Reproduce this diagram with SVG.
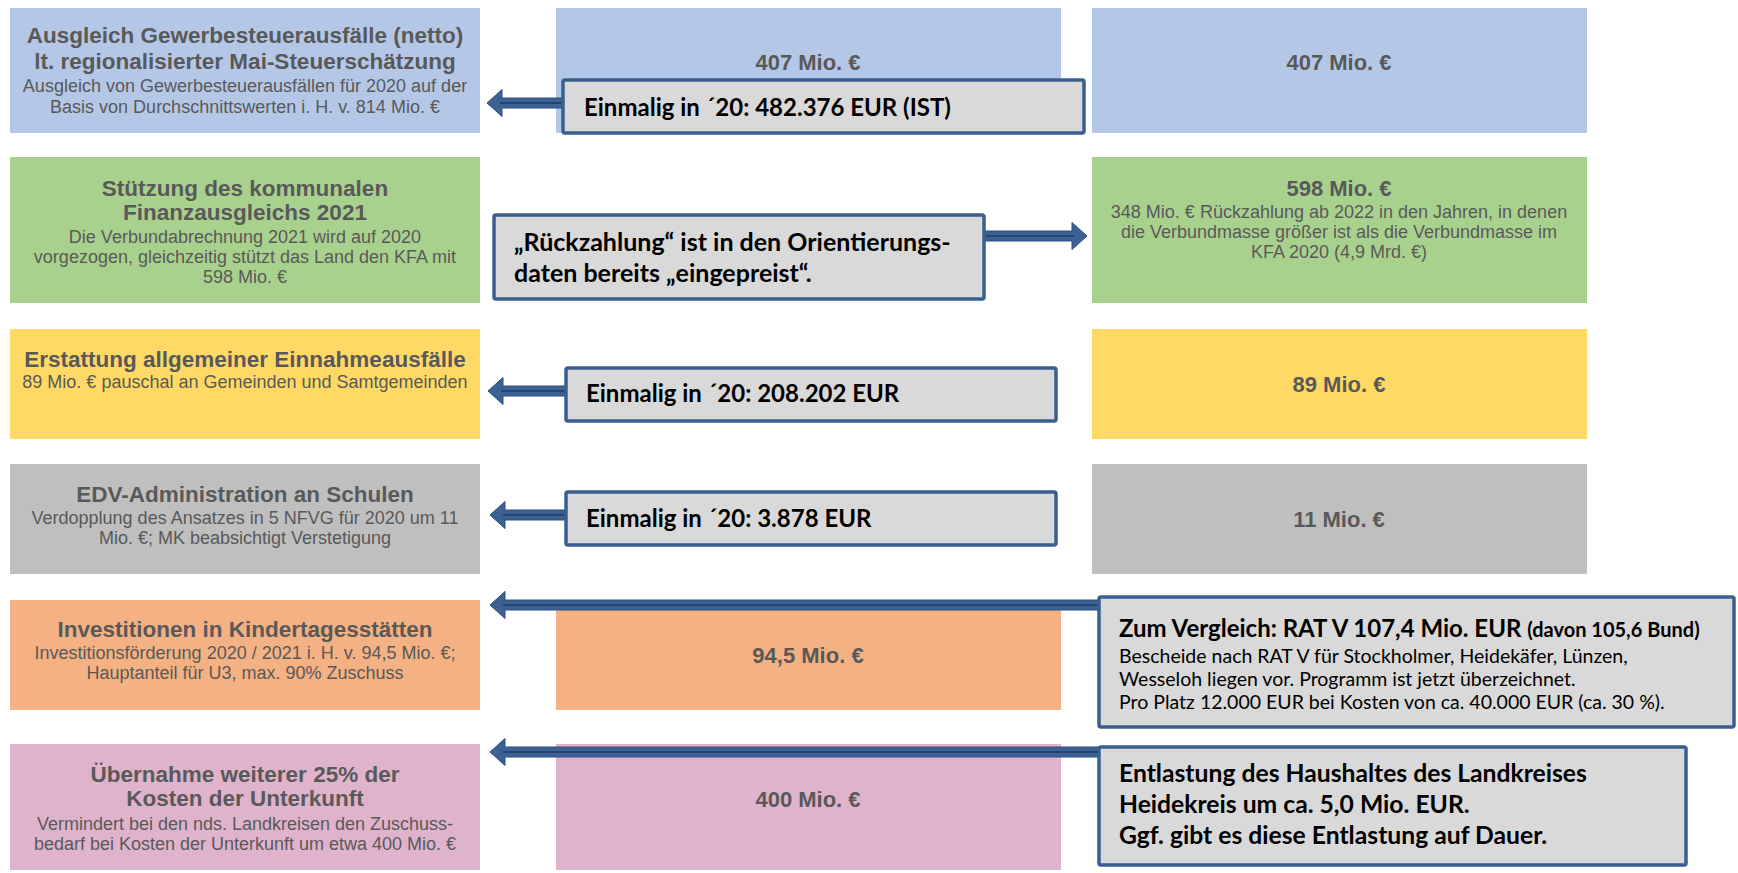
<svg xmlns="http://www.w3.org/2000/svg" width="1738" height="873" viewBox="0 0 1738 873">
<style>
.t{font-family:"Liberation Sans",Arial,sans-serif;font-weight:bold;font-size:22.5px;fill:#595959;text-anchor:middle}
.s{font-family:"Liberation Sans",Arial,sans-serif;font-size:18px;fill:#595959;text-anchor:middle}
.v{font-family:"Liberation Sans",Arial,sans-serif;font-weight:bold;font-size:22px;fill:#595959;text-anchor:middle}
.cb{fill:#d9d9d9;stroke:#3a5f8f;stroke-width:3.5}
.ct{font-family:Lato,"Open Sans",sans-serif;font-weight:bold;font-size:24px;fill:#000}
.ct2{font-size:25px}
.ct6{font-size:24.7px}
.cr{font-family:Lato,"Open Sans",sans-serif;font-size:19.5px;fill:#000}
.ar{fill:#3c6193;stroke:#2c4f7f;stroke-width:1}
.al{stroke:#1f3a66;stroke-width:1.5}
.blue{fill:#b4c7e7}.green{fill:#a9d18e}.yellow{fill:#ffd966}.gray{fill:#bfbfbf}.orange{fill:#f4b183}.pink{fill:#dfb3cb}
</style>
<rect width="1738" height="873" fill="#ffffff"/>
<g id="row1-left"><rect class="blue" x="10" y="8" width="470" height="125"/>
<text class="t" x="245" y="43">Ausgleich Gewerbesteuerausfälle (netto)</text>
<text class="t" x="245" y="68.5">lt. regionalisierter Mai-Steuerschätzung</text>
<text class="s" x="245" y="92">Ausgleich von Gewerbesteuerausfällen für 2020 auf der</text>
<text class="s" x="245" y="112.5">Basis von Durchschnittswerten i. H. v. 814 Mio. €</text></g>
<g id="row1-mid"><rect class="blue" x="556" y="8" width="505" height="125"/>
<text class="v" x="808" y="70">407 Mio. €</text></g>
<g id="row1-right"><rect class="blue" x="1092" y="8" width="495" height="125"/>
<text class="v" x="1339" y="70">407 Mio. €</text></g>
<g id="row2-left"><rect class="green" x="10" y="157" width="470" height="146"/>
<text class="t" x="245" y="196">Stützung des kommunalen</text>
<text class="t" x="245" y="220">Finanzausgleichs 2021</text>
<text class="s" x="245" y="242.5">Die Verbundabrechnung 2021 wird auf 2020</text>
<text class="s" x="245" y="262.5">vorgezogen, gleichzeitig stützt das Land den KFA mit</text>
<text class="s" x="245" y="282.5">598 Mio. €</text></g>
<g id="row2-right"><rect class="green" x="1092" y="157" width="495" height="146"/>
<text class="v" x="1339" y="196">598 Mio. €</text>
<text class="s" x="1339" y="218">348 Mio. € Rückzahlung ab 2022 in den Jahren, in denen</text>
<text class="s" x="1339" y="238">die Verbundmasse größer ist als die Verbundmasse im</text>
<text class="s" x="1339" y="258">KFA 2020 (4,9 Mrd. €)</text></g>
<g id="row3-left"><rect class="yellow" x="10" y="329" width="470" height="110"/>
<text class="t" x="245" y="367">Erstattung allgemeiner Einnahmeausfälle</text>
<text class="s" x="245" y="388">89 Mio. € pauschal an Gemeinden und Samtgemeinden</text></g>
<g id="row3-right"><rect class="yellow" x="1092" y="329" width="495" height="110"/>
<text class="v" x="1339" y="392">89 Mio. €</text></g>
<g id="row4-left"><rect class="gray" x="10" y="464" width="470" height="110"/>
<text class="t" x="245" y="502">EDV-Administration an Schulen</text>
<text class="s" x="245" y="524">Verdopplung des Ansatzes in 5 NFVG für 2020 um 11</text>
<text class="s" x="245" y="544">Mio. €; MK beabsichtigt Verstetigung</text></g>
<g id="row4-right"><rect class="gray" x="1092" y="464" width="495" height="110"/>
<text class="v" x="1339" y="527">11 Mio. €</text></g>
<g id="row5-left"><rect class="orange" x="10" y="600" width="470" height="110"/>
<text class="t" x="245" y="637">Investitionen in Kindertagesstätten</text>
<text class="s" x="245" y="659">Investitionsförderung 2020 / 2021 i. H. v. 94,5 Mio. €;</text>
<text class="s" x="245" y="679">Hauptanteil für U3, max. 90% Zuschuss</text></g>
<g id="row5-mid"><rect class="orange" x="556" y="600" width="505" height="110"/>
<text class="v" x="808" y="663">94,5 Mio. €</text></g>
<g id="row6-left"><rect class="pink" x="10" y="744" width="470" height="126"/>
<text class="t" x="245" y="782">Übernahme weiterer 25% der</text>
<text class="t" x="245" y="806">Kosten der Unterkunft</text>
<text class="s" x="245" y="830">Vermindert bei den nds. Landkreisen den Zuschuss-</text>
<text class="s" x="245" y="850">bedarf bei Kosten der Unterkunft um etwa 400 Mio. €</text></g>
<g id="row6-mid"><rect class="pink" x="556" y="744" width="505" height="126"/>
<text class="v" x="808" y="807">400 Mio. €</text></g>
<g id="connectors">
<polygon class="ar" points="487,103 502,89.5 502,98 564,98 564,108 502,108 502,116.5"/>
<line class="al" x1="500" y1="103" x2="564" y2="103"/>
<polygon class="ar" points="1087,236 1072,222.5 1072,231 984,231 984,241 1072,241 1072,249.5"/>
<line class="al" x1="984" y1="236" x2="1074" y2="236"/>
<polygon class="ar" points="488,391 503,377.5 503,386 566,386 566,396 503,396 503,404.5"/>
<line class="al" x1="501" y1="391" x2="566" y2="391"/>
<polygon class="ar" points="490,515 505,501.5 505,510 566,510 566,520 505,520 505,528.5"/>
<line class="al" x1="503" y1="515" x2="566" y2="515"/>
<polygon class="ar" points="490,605 505,591.5 505,600 1099,600 1099,610 505,610 505,618.5"/>
<line class="al" x1="503" y1="605" x2="1099" y2="605"/>
<polygon class="ar" points="490,752 505,738.5 505,747 1099,747 1099,757 505,757 505,765.5"/>
<line class="al" x1="503" y1="752" x2="1099" y2="752"/>
</g>
<g id="callout1"><rect class="cb" x="563" y="80" width="521" height="53" rx="2"/>
<text class="ct" x="584" y="116">Einmalig in ´20: 482.376 EUR (IST)</text></g>
<g id="callout2"><rect class="cb" x="494" y="215" width="490" height="84" rx="2"/>
<text class="ct ct2" x="514" y="251">„Rückzahlung“ ist in den Orientierungs-</text>
<text class="ct ct2" x="514" y="282">daten bereits „eingepreist“.</text></g>
<g id="callout3"><rect class="cb" x="566" y="368" width="490" height="53" rx="2"/>
<text class="ct" x="586" y="402">Einmalig in ´20: 208.202 EUR</text></g>
<g id="callout4"><rect class="cb" x="566" y="492" width="490" height="53" rx="2"/>
<text class="ct" x="586" y="527">Einmalig in ´20: 3.878 EUR</text></g>
<g id="callout5"><rect class="cb" x="1099" y="597" width="635" height="130" rx="2"/>
<text class="ct" x="1119" y="637">Zum Vergleich: RAT V 107,4 Mio. EUR <tspan font-size="20px">(davon 105,6 Bund)</tspan></text>
<text class="cr" x="1119" y="663">Bescheide nach RAT V für Stockholmer, Heidekäfer, Lünzen,</text>
<text class="cr" x="1119" y="686">Wesseloh liegen vor. Programm ist jetzt überzeichnet.</text>
<text class="cr" x="1119" y="709">Pro Platz 12.000 EUR bei Kosten von ca. 40.000 EUR (ca. 30 %).</text></g>
<g id="callout6"><rect class="cb" x="1099" y="747" width="587" height="118" rx="2"/>
<text class="ct ct6" x="1119" y="782">Entlastung des Haushaltes des Landkreises</text>
<text class="ct ct6" x="1119" y="813">Heidekreis um ca. 5,0 Mio. EUR.</text>
<text class="ct ct6" x="1119" y="844">Ggf. gibt es diese Entlastung auf Dauer.</text></g>
</svg>
